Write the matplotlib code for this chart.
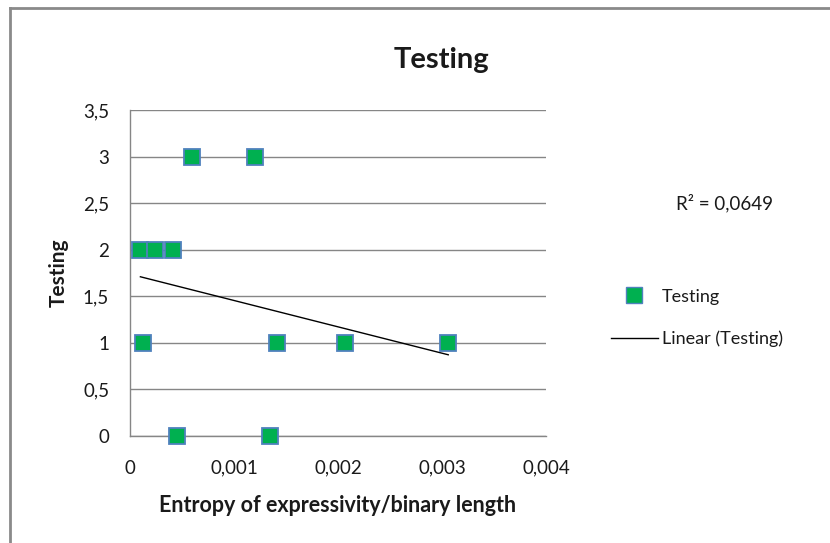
import numpy as np
import matplotlib
matplotlib.use("Agg")
import matplotlib.pyplot as plt
from matplotlib.lines import Line2D

plt.rcParams['font.family'] = ['Lato', 'DejaVu Sans']

# entropy of expressivity / binary length vs. testing score
entropy = [0.0006, 0.0012, 0.0001, 0.00024, 0.00041, 0.000125,
           0.00141, 0.00207, 0.00306, 0.00045, 0.00135]
testing = [3, 3, 2, 2, 2, 1, 1, 1, 1, 0, 0]
r_squared = 0.0649

x_ticks = [0, 0.001, 0.002, 0.003, 0.004]
x_tick_labels = ['0', '0,001', '0,002', '0,003', '0,004']
y_ticks = [0, 0.5, 1, 1.5, 2, 2.5, 3, 3.5]
y_tick_labels = ['0', '0,5', '1', '1,5', '2', '2,5', '3', '3,5']

grid_col = '#868686'
text_col = '#1a1a1a'

fig = plt.figure(figsize=(8.3, 5.43), dpi=100)
ax = fig.add_axes([130 / 830, 1 - 436 / 543, 416 / 830, 326 / 543])

# linear trend (least squares) over the data range
x = np.array(entropy)
y = np.array(testing)
slope, intercept = np.polyfit(x, y, 1)
xs = np.array([x.min(), x.max()])

ax.plot(xs, slope * xs + intercept, color='black', lw=1.0, zorder=3)
ax.plot(x, y, linestyle='none', marker='s', markersize=11.5,
        markerfacecolor='#00B050', markeredgecolor='#4F81BD',
        markeredgewidth=1.3, zorder=4, clip_on=False)

ax.set_xlim(0, 0.004)
ax.set_ylim(0, 3.5)
ax.set_xticks(x_ticks)
ax.set_xticklabels(x_tick_labels)
ax.set_yticks(y_ticks)
ax.set_yticklabels(y_tick_labels)
ax.tick_params(length=0, labelsize=13.5, colors=text_col)
ax.tick_params(axis='x', pad=17)
ax.tick_params(axis='y', pad=15)

ax.grid(axis='y', color=grid_col, lw=1.0)
ax.set_axisbelow(True)
for side in ['top', 'right']:
    ax.spines[side].set_visible(False)
for side in ['left', 'bottom']:
    ax.spines[side].set_color(grid_col)
    ax.spines[side].set_linewidth(1.0)

ax.set_xlabel('Entropy of expressivity/binary length', fontsize=15.5,
              fontweight='bold', labelpad=13, color=text_col)
ax.set_ylabel('Testing', fontsize=15, fontweight='bold', labelpad=10,
              color=text_col)

fig.text(441 / 830, 1 - 60 / 543, 'Testing', fontsize=21, fontweight='bold',
         ha='center', va='center', color=text_col)

r2_text = 'R² = ' + f'{r_squared:.4f}'.replace('.', ',')
fig.text(676 / 830, 1 - 203 / 543, r2_text, fontsize=13.5, va='center',
         color=text_col)

handles = [
    Line2D([], [], linestyle='none', marker='s', markersize=11,
           markerfacecolor='#00B050', markeredgecolor='#4F81BD',
           markeredgewidth=1.0),
    Line2D([], [], color='black', lw=1.0),
]
fig.legend(handles, ['Testing', 'Linear (Testing)'], loc='center left',
           bbox_to_anchor=(611 / 830, 1 - 318 / 543), frameon=False,
           fontsize=13, handlelength=2.6, handletextpad=0.2,
           labelspacing=1.45, borderpad=0, borderaxespad=0,
           labelcolor=text_col)

# chart frame (top and left edges)
fig.add_artist(Line2D([10 / 830, 10 / 830], [0, 1 - 8 / 543],
                      transform=fig.transFigure, color='#8a8a8a', lw=2))
fig.add_artist(Line2D([10 / 830, 1], [1 - 8 / 543, 1 - 8 / 543],
                      transform=fig.transFigure, color='#8a8a8a', lw=2))

fig.savefig('out.png', dpi=100)
